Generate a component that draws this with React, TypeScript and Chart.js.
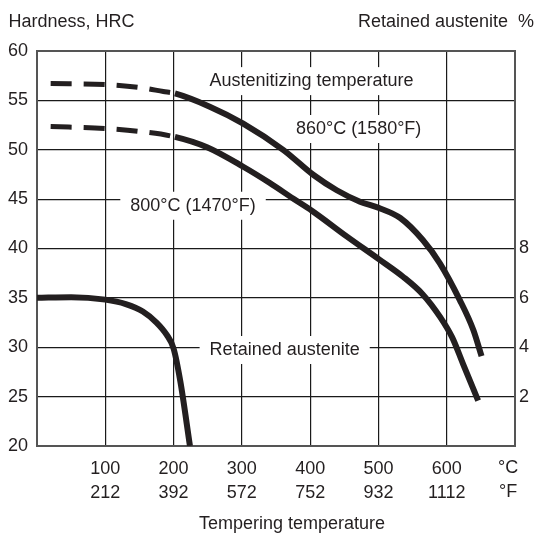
import React, { useEffect, useRef } from 'react';
import { Chart, registerables } from 'chart.js';

Chart.register(...registerables);

// ---- Data ----
const TEMP_860 = [20, 100, 151, 185, 202, 253, 302, 361, 405, 439, 473, 501, 532, 565, 590, 619, 639, 651];
const HRC_860 = [56.7, 56.6, 56.3, 55.9, 55.7, 54.36, 52.65, 49.97, 47.44, 45.9, 44.74, 44.1, 43.09, 40.86, 38.5, 34.8, 31.75, 29.1];

const TEMP_800 = [20, 100, 151, 202, 249, 302, 341, 375, 403, 454, 501, 536, 565, 590, 608, 624, 646];
const HRC_800 = [52.35, 52.15, 51.85, 51.3, 50.25, 48.28, 46.63, 45.06, 43.8, 41.2, 38.9, 37.14, 35.35, 33.1, 31.0, 28.3, 24.6];

const TEMP_RA = [0, 50, 100, 130, 155, 175, 190, 200, 210, 224];
const RA_PCT = [6.0, 6.03, 5.93, 5.75, 5.45, 5.0, 4.5, 3.95, 2.6, 0];

const CELSIUS_TICKS = [100, 200, 300, 400, 500, 600];
const FAHRENHEIT_LABELS = ['212', '392', '572', '752', '932', '1112'];
const RA_TICKS = [2, 4, 6, 8];

const DASHED_BELOW = 200; // °C, region drawn dashed

const INK = '#231f20';
const FONT = '"Liberation Sans", Arial, sans-serif';

const ANNOTATIONS = [
  { text: 'Austenitizing temperature', t: 402, hrc: 56.95 },
  { text: '860°C (1580°F)', t: 471, hrc: 52.1 },
  { text: '800°C (1470°F)', t: 228.5, hrc: 44.33 },
  { text: 'Retained austenite', t: 362.7, hrc: 29.72 },
];

const toPoints = (xs: number[], ys: number[]) => xs.map((x, i) => ({ x, y: ys[i] }));

const labelsPlugin = {
  id: 'labelsPlugin',
  beforeDatasetsDraw(chart: any) {
    const ctx = chart.ctx;
    const xs = chart.scales.x;
    const ys = chart.scales.y;
    ctx.save();
    ctx.font = `18px ${FONT}`;
    ctx.textAlign = 'center';
    ctx.textBaseline = 'middle';
    ANNOTATIONS.forEach((a) => {
      const px = xs.getPixelForValue(a.t);
      const py = ys.getPixelForValue(a.hrc);
      const w = ctx.measureText(a.text).width;
      ctx.fillStyle = '#ffffff';
      ctx.fillRect(px - w / 2 - 10, py - 14, w + 20, 28);
      ctx.fillStyle = INK;
      ctx.fillText(a.text, px, py);
    });
    ctx.restore();
  },
  afterDraw(chart: any) {
    const ctx = chart.ctx;
    const area = chart.chartArea;
    const xs = chart.scales.x;
    ctx.save();
    ctx.font = `18px ${FONT}`;
    ctx.fillStyle = INK;
    ctx.textBaseline = 'alphabetic';
    ctx.textAlign = 'left';
    ctx.fillText('Hardness, HRC', 8.5, 27);
    ctx.textAlign = 'right';
    ctx.fillText('Retained austenite  %', 534, 27);
    ctx.textAlign = 'center';
    ctx.fillText('Tempering temperature', (area.left + area.right) / 2 + 16, 529);
    ctx.textBaseline = 'middle';
    const ux = xs.getPixelForValue(690);
    ctx.fillText('°C', ux, 468.5);
    ctx.fillText('°F', ux, 492.5);
    ctx.restore();
  },
};

export default function App() {
  const canvasRef = useRef<HTMLCanvasElement | null>(null);

  useEffect(() => {
    if (!canvasRef.current) return;
    const dashed = (ctx: any) => (ctx.p0.parsed.x < DASHED_BELOW ? [21, 12] : undefined);
    const dashedWidth = (ctx: any) => (ctx.p0.parsed.x < DASHED_BELOW ? 5 : 6);

    const lineStyle = {
      borderColor: INK,
      borderWidth: 6,
      pointRadius: 0,
      cubicInterpolationMode: 'monotone',
      borderCapStyle: 'butt',
      borderJoinStyle: 'round',
    };

    const chart = new Chart(canvasRef.current, {
      type: 'line',
      data: {
        datasets: [
          {
            ...lineStyle,
            label: '860°C (1580°F)',
            data: toPoints(TEMP_860, HRC_860),
            segment: { borderDash: dashed, borderWidth: dashedWidth },
            yAxisID: 'y',
          },
          {
            ...lineStyle,
            label: '800°C (1470°F)',
            data: toPoints(TEMP_800, HRC_800),
            segment: { borderDash: dashed, borderWidth: dashedWidth },
            yAxisID: 'y',
          },
          {
            ...lineStyle,
            label: 'Retained austenite',
            data: toPoints(TEMP_RA, RA_PCT),
            yAxisID: 'y2',
          },
        ],
      },
      options: {
        animation: false,
        responsive: false,
        devicePixelRatio: 1,
        layout: { padding: { top: 51, left: 0, right: 0, bottom: 0 } },
        plugins: {
          legend: { display: false },
          tooltip: { enabled: false },
          title: { display: false },
        },
        scales: {
          x: {
            type: 'linear',
            min: 0,
            max: 700,
            ticks: {
              stepSize: 100,
              autoSkip: false,
              maxRotation: 0,
              padding: 11,
              color: INK,
              font: { family: FONT, size: 18, lineHeight: 1.3333 },
              callback: (value: any) => {
                const i = CELSIUS_TICKS.indexOf(Number(value));
                return i >= 0 ? [String(CELSIUS_TICKS[i]), FAHRENHEIT_LABELS[i]] : '';
              },
            },
            grid: {
              drawTicks: false,
              color: (c: any) => (c.tick && c.tick.value === 700 ? '#555' : '#1a1a1a'),
              lineWidth: (c: any) => (c.tick && c.tick.value === 700 ? 2 : 1.2),
            },
            border: { display: true, color: '#555', width: 2 },
            afterFit: (s: any) => {
              s.height = 89;
            },
          },
          y: {
            type: 'linear',
            position: 'left',
            min: 20,
            max: 60,
            ticks: {
              stepSize: 5,
              padding: 9,
              color: INK,
              font: { family: FONT, size: 18 },
            },
            grid: {
              drawTicks: false,
              color: (c: any) => (c.tick && c.tick.value === 60 ? '#555' : '#1a1a1a'),
              lineWidth: (c: any) => (c.tick && c.tick.value === 60 ? 2 : 1.2),
            },
            border: { display: true, color: '#555', width: 2 },
            afterFit: (s: any) => {
              s.width = 37;
            },
          },
          y2: {
            type: 'linear',
            position: 'right',
            min: 0,
            max: 16,
            afterBuildTicks: (s: any) => {
              s.ticks = RA_TICKS.map((v) => ({ value: v }));
            },
            ticks: {
              padding: 4,
              color: INK,
              font: { family: FONT, size: 18 },
            },
            grid: { display: false, drawTicks: false },
            border: { display: true, color: '#555', width: 2 },
            afterFit: (s: any) => {
              s.width = 21;
            },
          },
        },
      },
      plugins: [labelsPlugin],
    } as any);

    return () => chart.destroy();
  }, []);

  return (
    <canvas
      ref={canvasRef}
      width={536}
      height={535}
      style={{ position: 'fixed', left: 0, top: 0, width: 536, height: 535, display: 'block', background: '#fff' }}
    />
  );
}
